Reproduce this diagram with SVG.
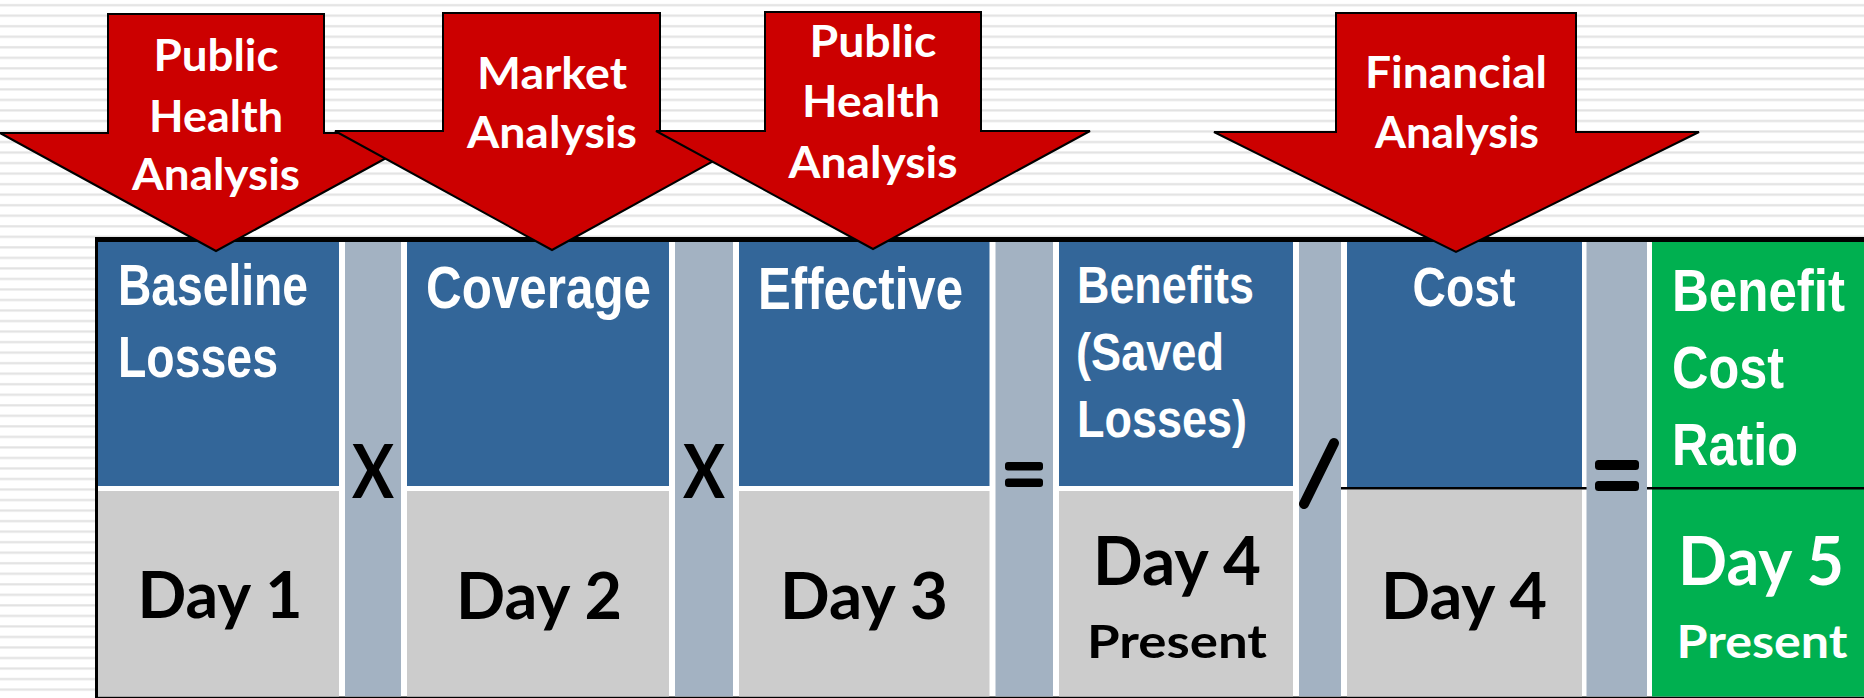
<svg xmlns="http://www.w3.org/2000/svg" width="1864" height="698" viewBox="0 0 1864 698">
<defs>
<pattern id="stripes" patternUnits="userSpaceOnUse" x="0" y="0" width="20" height="10.53">
<rect x="0" y="4.3" width="20" height="1.2" fill="#d4d4d4"/>
<rect x="0" y="5.5" width="20" height="1" fill="#ececec"/>
</pattern>
<style>
.arrow{fill:#cc0000;stroke:#000;stroke-width:2;stroke-linejoin:miter}
.atxt{font-family:Lato,"Liberation Sans",sans-serif;font-weight:700;font-size:44px;fill:#fff;text-anchor:middle}
.blue{fill:#336699}
.lgray{fill:#cccccc}
.op{fill:#a3b2c2}
.green{fill:#00b050}
.hd{font-family:"Liberation Sans",Arial,sans-serif;font-weight:700;fill:#fff}
.day{font-family:Lato,"Liberation Sans",sans-serif;font-weight:700;fill:#000;text-anchor:middle}
.dayw{fill:#fff}
.sym{font-family:Lato,"Liberation Sans",sans-serif;font-weight:700;fill:#000;text-anchor:middle}
</style>
</defs>
<rect width="1864" height="698" fill="#fff"/>
<rect width="1864" height="698" fill="url(#stripes)"/>

<g id="table">
<rect x="95" y="237" width="1769" height="461" fill="#000"/>
<rect x="98" y="242" width="1766" height="454.5" fill="#fff"/>
</g>

<g id="col-baseline">
<rect class="blue" x="98" y="242" width="241" height="244"/>
<rect class="lgray" x="98" y="491" width="241" height="205.5"/>
<text class="hd" font-size="57" x="118" y="305" textLength="190" lengthAdjust="spacingAndGlyphs">Baseline</text>
<text class="hd" font-size="57" x="118" y="377" textLength="160" lengthAdjust="spacingAndGlyphs">Losses</text>
<text class="day" font-size="65" x="220" y="618" textLength="165" lengthAdjust="spacingAndGlyphs">Day 1</text>
</g>

<g id="op-times-1">
<rect class="op" x="345" y="242" width="56" height="454.5"/>
<text class="sym" font-size="74" x="373" y="498" textLength="42" lengthAdjust="spacingAndGlyphs">X</text>
</g>

<g id="col-coverage">
<rect class="blue" x="407" y="242" width="262" height="244"/>
<rect class="lgray" x="407" y="491" width="262" height="205.5"/>
<text class="hd" font-size="59" x="426" y="308" textLength="225" lengthAdjust="spacingAndGlyphs">Coverage</text>
<text class="day" font-size="65" x="539" y="619" textLength="166" lengthAdjust="spacingAndGlyphs">Day 2</text>
</g>

<g id="op-times-2">
<rect class="op" x="675" y="242" width="58" height="454.5"/>
<text class="sym" font-size="74" x="704" y="498" textLength="42" lengthAdjust="spacingAndGlyphs">X</text>
</g>

<g id="col-effective">
<rect class="blue" x="739" y="242" width="250.5" height="244"/>
<rect class="lgray" x="739" y="491" width="250.5" height="205.5"/>
<text class="hd" font-size="60" x="758" y="309" textLength="205" lengthAdjust="spacingAndGlyphs">Effective</text>
<text class="day" font-size="65" x="864" y="619" textLength="168" lengthAdjust="spacingAndGlyphs">Day 3</text>
</g>

<g id="op-equals-1">
<rect class="op" x="995.5" y="242" width="57.5" height="454.5"/>
<rect x="1005" y="462" width="38" height="8.5" rx="3" fill="#000"/>
<rect x="1005" y="478.5" width="38" height="8.5" rx="3" fill="#000"/>
</g>

<g id="col-benefits">
<rect class="blue" x="1059" y="242" width="234" height="244"/>
<rect class="lgray" x="1059" y="491" width="234" height="205.5"/>
<text class="hd" font-size="51" x="1077" y="303" textLength="177" lengthAdjust="spacingAndGlyphs">Benefits</text>
<text class="hd" font-size="51" x="1076" y="370" textLength="148" lengthAdjust="spacingAndGlyphs">(Saved</text>
<text class="hd" font-size="51" x="1077" y="437" textLength="170" lengthAdjust="spacingAndGlyphs">Losses)</text>
<text class="day" font-size="67" x="1177" y="585" textLength="168" lengthAdjust="spacingAndGlyphs">Day 4</text>
<text class="day" font-size="45" x="1177" y="658" textLength="180" lengthAdjust="spacingAndGlyphs">Present</text>
</g>

<g id="op-divide">
<rect class="op" x="1299" y="242" width="42" height="454.5"/>
<line x1="1334" y1="443" x2="1304" y2="504" stroke="#000" stroke-width="10" stroke-linecap="round"/>
</g>

<g id="col-cost">
<rect class="blue" x="1347" y="242" width="235" height="245"/>
<rect class="lgray" x="1347" y="489.5" width="235" height="207"/>
<text class="hd" font-size="56" x="1464" y="306" text-anchor="middle" textLength="103" lengthAdjust="spacingAndGlyphs">Cost</text>
<text class="day" font-size="65" x="1464" y="619" textLength="166" lengthAdjust="spacingAndGlyphs">Day 4</text>
</g>

<g id="col-ratio">
<rect class="green" x="1652" y="242" width="212" height="454.5"/>
<line x1="1341" y1="488.2" x2="1864" y2="488.2" stroke="#000" stroke-width="2.4"/>
<text class="hd" font-size="60" x="1672" y="311" textLength="173" lengthAdjust="spacingAndGlyphs">Benefit</text>
<text class="hd" font-size="60" x="1672" y="388" textLength="112" lengthAdjust="spacingAndGlyphs">Cost</text>
<text class="hd" font-size="60" x="1672" y="465" textLength="126" lengthAdjust="spacingAndGlyphs">Ratio</text>
<text class="day dayw" font-size="67" x="1761" y="585" textLength="166" lengthAdjust="spacingAndGlyphs">Day 5</text>
<text class="day dayw" font-size="45" x="1762" y="658" textLength="171" lengthAdjust="spacingAndGlyphs">Present</text>
</g>

<g id="op-equals-2">
<rect class="op" x="1586.5" y="242" width="60.5" height="454.5"/>
<rect x="1595" y="460" width="44" height="10" rx="3.5" fill="#000"/>
<rect x="1595" y="481" width="44" height="10" rx="3.5" fill="#000"/>
</g>

<g id="arrow-public-health-1">
<polygon class="arrow" points="108,14 324,14 324,133 432,133 216,251 0,133 108,133"/>
<text class="atxt" x="216" y="71" textLength="125" lengthAdjust="spacingAndGlyphs">Public</text>
<text class="atxt" x="216" y="132" textLength="134" lengthAdjust="spacingAndGlyphs">Health</text>
<text class="atxt" x="216" y="190" textLength="168" lengthAdjust="spacingAndGlyphs">Analysis</text>
</g>

<g id="arrow-market">
<polygon class="arrow" points="443,13 660,13 660,131 768,131 552,250 335,131 443,131"/>
<text class="atxt" x="552" y="89" textLength="150" lengthAdjust="spacingAndGlyphs">Market</text>
<text class="atxt" x="552" y="148" textLength="170" lengthAdjust="spacingAndGlyphs">Analysis</text>
</g>

<g id="arrow-public-health-2">
<polygon class="arrow" points="765,12 981,12 981,131 1090,131 873,249 656,131 765,131"/>
<text class="atxt" x="873" y="57" textLength="127" lengthAdjust="spacingAndGlyphs">Public</text>
<text class="atxt" x="871" y="117" textLength="138" lengthAdjust="spacingAndGlyphs">Health</text>
<text class="atxt" x="873" y="178" textLength="169" lengthAdjust="spacingAndGlyphs">Analysis</text>
</g>

<g id="arrow-financial">
<polygon class="arrow" points="1336,13 1576,13 1576,132 1699,132 1456,252 1214,132 1336,132"/>
<text class="atxt" x="1456" y="88" textLength="182" lengthAdjust="spacingAndGlyphs">Financial</text>
<text class="atxt" x="1457" y="148" textLength="164" lengthAdjust="spacingAndGlyphs">Analysis</text>
</g>
</svg>
